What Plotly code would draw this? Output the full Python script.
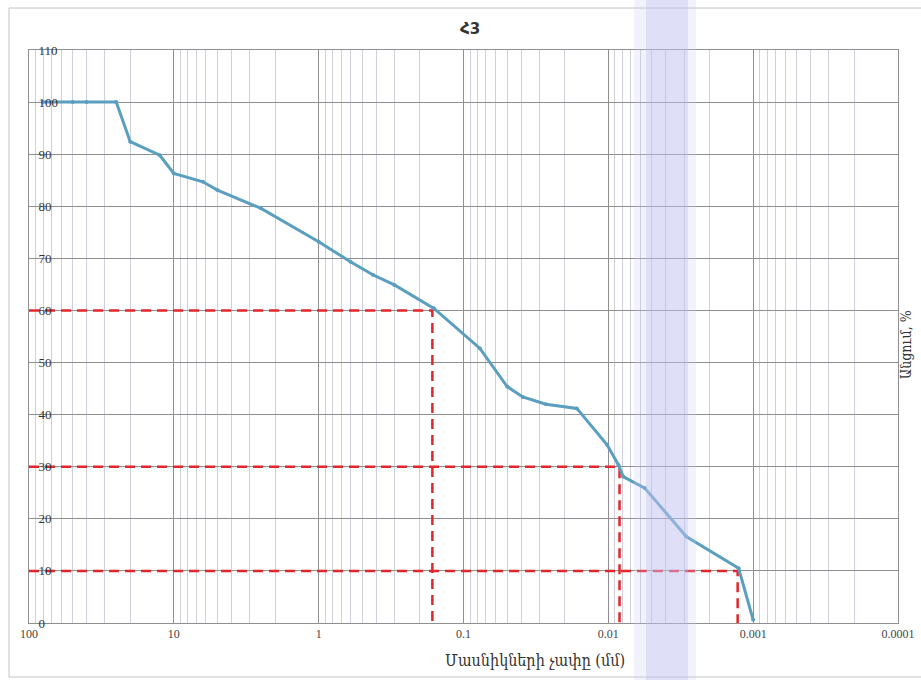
import plotly.graph_objects as go

# ---- data ----
sizes_mm = [80, 50, 40, 25, 20, 12.5, 10, 6.3, 5, 2.5, 1, 0.6, 0.42, 0.3, 0.16,
            0.077, 0.05, 0.039, 0.027, 0.0165, 0.0102, 0.0085, 0.0079, 0.0056,
            0.0029, 0.00126, 0.001]
passing_pct = [100, 100, 100, 100, 92.4, 89.8, 86.3, 84.7, 83.1, 79.6, 73.2, 69.3,
               66.8, 64.9, 60.4, 52.7, 45.4, 43.4, 42.0, 41.2, 34.2, 30.3, 28.1,
               25.9, 16.6, 10.5, 0.6]

# characteristic diameters (d60, d30, d10)
ref_pct = [60, 30, 10]
ref_d = [0.164, 0.00837, 0.00128]

x_tickvals = [100, 10, 1, 0.1, 0.01, 0.001, 0.0001]
x_ticktext = ["100", "10", "1", "0.1", "0.01", "0.001", "0.0001"]
y_tickvals = list(range(0, 111, 10))

title_text = "Հ3"
x_title = "Մասնիկների չափը (մմ)"
y_title = "Անցում, %"

minor_vals = [k * 10.0 ** e for e in range(-4, 2) for k in range(2, 10)]

W, H = 921, 680
ML, MR, MT, MB = 29, 23, 50, 57
pw = W - ML - MR
ph = H - MT - MB

def px_x(p):
    return (p - ML) / pw

def px_y(p):
    return (H - MB - p) / ph

fig = go.Figure()

for p, d in zip(ref_pct, ref_d):
    fig.add_trace(go.Scatter(
        x=[100, d, d], y=[p, p, 0], mode="lines",
        line=dict(color="#e3262b", width=2.5, dash="10px,6px"),
        hoverinfo="skip", showlegend=False))

fig.add_trace(go.Scatter(
    x=sizes_mm, y=passing_pct, mode="lines+markers",
    line=dict(color="#5a9ec0", width=3),
    marker=dict(size=4, color="#5a9ec0"),
    showlegend=False))

font_serif = "Liberation Serif, DejaVu Serif, serif"

fig.update_layout(
    width=W, height=H,
    margin=dict(l=ML, r=MR, t=MT, b=MB, autoexpand=False),
    paper_bgcolor="white", plot_bgcolor="white",
    title=dict(text="<b>" + title_text + "</b>", x=(470) / W, xanchor="center",
               y=1 - 29 / H, yanchor="middle",
               font=dict(family="DejaVu Sans, sans-serif", size=15, color="#333333")),
    xaxis=dict(
        type="log", range=[2, -4], autorange=False, automargin=False,
        tickvals=x_tickvals, ticktext=x_ticktext, ticklabeloverflow="allow",
        showgrid=True, gridcolor="#8f8f8f", gridwidth=1,
        minor=dict(tickvals=minor_vals, showgrid=True, gridcolor="#cfcfdc", gridwidth=1, ticks=""),
        showline=True, linecolor="#8f8f8f", mirror=True,
        ticks="", tickfont=dict(family=font_serif, size=12, color="#444444"),
        zeroline=False,
    ),
    yaxis=dict(
        range=[0, 110], autorange=False, automargin=False,
        tickvals=y_tickvals, ticklabeloverflow="allow",
        showgrid=True, gridcolor="#8f8f8f", gridwidth=1,
        showline=True, linecolor="#8f8f8f", mirror=True,
        ticks="", ticklabelposition="inside", ticklabelstandoff=9,
        tickfont=dict(family=font_serif, size=13, color="#333333"),
        zeroline=False,
    ),
)

# axis titles as annotations
fig.add_annotation(text=x_title, xref="paper", yref="paper",
                   x=px_x(535), y=px_y(660), xanchor="center", yanchor="middle",
                   showarrow=False,
                   font=dict(family="DejaVu Serif Condensed, DejaVu Serif, serif", size=16, color="#333333"))
fig.add_annotation(text=y_title, xref="paper", yref="paper",
                   x=px_x(906), y=px_y(345), xanchor="center", yanchor="middle",
                   textangle=-90, showarrow=False,
                   font=dict(family="DejaVu Serif Condensed, DejaVu Serif, serif", size=14, color="#333333"))

# outer chart-area frame (left, top, bottom edges; right edge lies outside the picture)
x0f, x1f, y0f, y1f = px_x(9), px_x(940), px_y(677), px_y(8)
fig.add_shape(type="path", xref="paper", yref="paper",
              path=f"M {x1f} {y1f} L {x0f} {y1f} L {x0f} {y0f} L {x1f} {y0f}",
              line=dict(color="#c4c4c4", width=1), layer="below")

# scanner artefact: lavender vertical band
fig.add_shape(type="rect", xref="paper", yref="paper",
              x0=px_x(634), x1=px_x(696), y0=px_y(H + 5), y1=px_y(-5),
              line=dict(width=0), fillcolor="rgba(205,205,245,0.25)", layer="above")
fig.add_shape(type="rect", xref="paper", yref="paper",
              x0=px_x(646), x1=px_x(688), y0=px_y(H + 5), y1=px_y(-5),
              line=dict(width=0), fillcolor="rgba(190,190,240,0.35)", layer="above")

html = fig.to_html(full_html=True, include_plotlyjs=True,
                   config={"displayModeBar": False})
html = html.replace("<body>", '<body style="margin:0;padding:0;overflow:hidden">', 1)
html = html.replace("<head>", "<head><style>html,body{margin:0;padding:0;}</style>", 1)
with open("out.html", "w", encoding="utf-8") as f:
    f.write(html)
